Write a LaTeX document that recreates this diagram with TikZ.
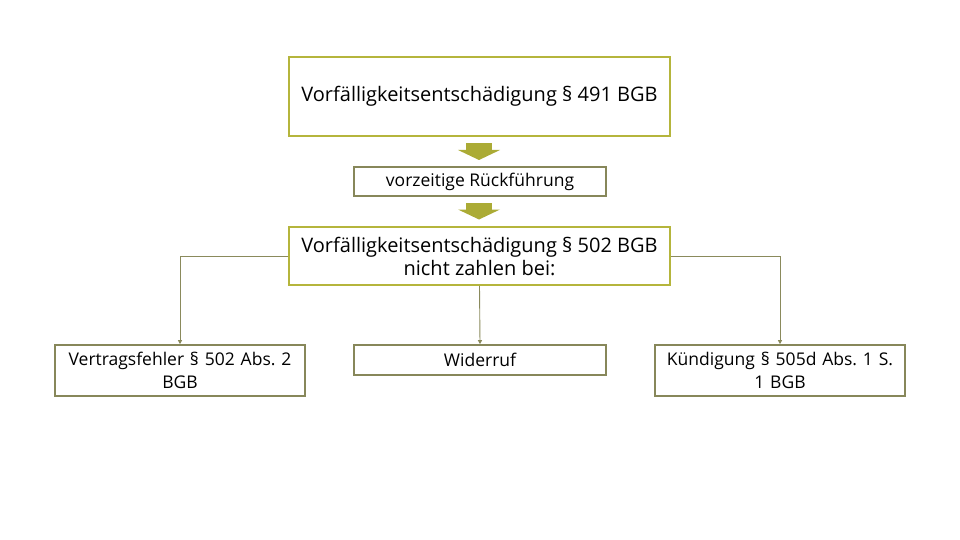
\documentclass[tikz,border=0pt]{standalone}
\usepackage{fontspec}
\setmainfont{Open Sans}
\usetikzlibrary{arrows.meta,calc}
\definecolor{bigborder}{HTML}{B5B53C}
\definecolor{smallborder}{HTML}{87875A}
\definecolor{conn}{HTML}{8A8A5C}
\definecolor{arrowfill}{HTML}{ABAB35}
\frenchspacing
\begin{document}
\begin{tikzpicture}[x=1pt,y=-1pt,
  bigbox/.style={draw=bigborder,line width=1.8pt,fill=white,inner sep=0pt,align=center,font=\fontsize{20}{24}\selectfont},
  smallbox/.style={draw=smallborder,line width=1.6pt,fill=white,inner sep=0pt,align=center,font=\fontsize{17.5}{23}\selectfont},
  connector/.style={draw=conn,line width=0.9pt,-{Triangle[length=4pt,width=4pt]}},
  blockarrow/.style={fill=arrowfill,draw=none}]
\useasboundingbox (0,0) rectangle (960,540);
\node[bigbox,minimum width=381pt,minimum height=79pt] (top) at (479.5,96.5) {Vorfälligkeitsentschädigung § 491 BGB};
\node[smallbox,minimum width=252pt,minimum height=29pt] (mid) at (480,181.5) {vorzeitige Rückführung};
\node[bigbox,minimum width=381pt,minimum height=58pt] (main) at (479.5,256) {Vorfälligkeitsentschädigung § 502 BGB\\[-1pt]nicht zahlen bei:};
\node[smallbox,minimum width=250pt,minimum height=51pt,text width=246pt] (left) at (180,370.5) {Vertragsfehler § 502 Abs. 2\\BGB};
\node[smallbox,minimum width=252pt,minimum height=30pt] (center) at (480,360) {Widerruf};
\node[smallbox,minimum width=250pt,minimum height=51pt,text width=246pt] (right) at (780,370.5) {Kündigung § 505d Abs. 1 S.\\1 BGB};
% block arrows
\coordinate (a1) at (479,143);
\fill[blockarrow] ($(a1)+(-13,0)$) rectangle ($(a1)+(13,7)$);
\fill[blockarrow] ($(a1)+(-21,7)$) -- ($(a1)+(21,7)$) -- ($(a1)+(0,17)$) -- cycle;
\coordinate (a2) at (479,203);
\fill[blockarrow] ($(a2)+(-13,0)$) rectangle ($(a2)+(13,6.5)$);
\fill[blockarrow] ($(a2)+(-21,6.5)$) -- ($(a2)+(21,6.5)$) -- ($(a2)+(0,16.5)$) -- cycle;
% connectors
\draw[connector] (main.west) -| (left.north);
\draw[connector] (main.south) -- (center.north);
\draw[connector] (main.east) -| (right.north);
\end{tikzpicture}
\end{document}
